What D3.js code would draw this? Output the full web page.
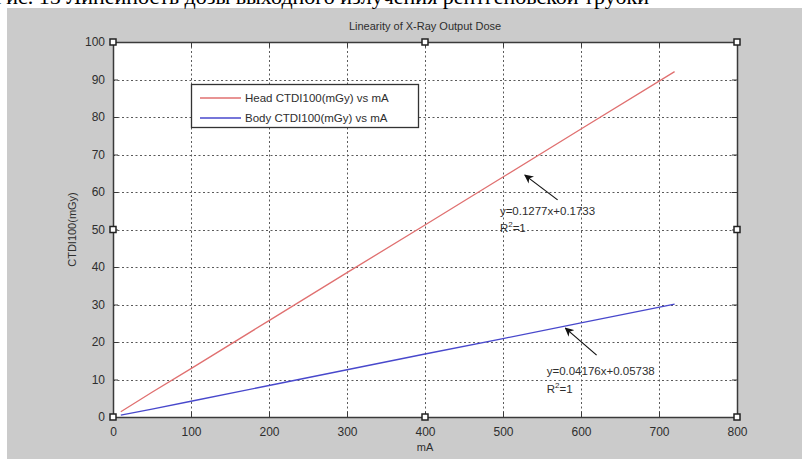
<!DOCTYPE html>
<html>
<head>
<meta charset="utf-8">
<script src="https://cdn.jsdelivr.net/npm/d3@7/dist/d3.min.js"></script>
<style>
  html, body { margin: 0; padding: 0; background: #ffffff; }
  svg { display: block; }
</style>
</head>
<body>
<script>
// Tube current settings (mA) and measured CTDI100 (mGy)
const mA = [10, 50, 100, 200, 300, 400, 500, 600, 720];
const headCTDI = [1.4, 6.6, 12.9, 25.7, 38.5, 51.2, 64.0, 76.8, 92.1];
const bodyCTDI = [0.5, 2.1, 4.2, 8.4, 12.6, 16.8, 20.9, 25.1, 30.1];

const xTicks = [0, 100, 200, 300, 400, 500, 600, 700, 800];
const yTicks = [0, 10, 20, 30, 40, 50, 60, 70, 80, 90, 100];

const seriesNames = ["Head CTDI100(mGy) vs mA", "Body CTDI100(mGy) vs mA"];
const fitLabels = ["y=0.1277x+0.1733", "y=0.04176x+0.05738"];

const W = 802, H = 459;
const plot = { left: 113, right: 737, top: 42, bottom: 417 };

const svg = d3.select("body").append("svg")
  .attr("width", W).attr("height", H)
  .style("font-family", "'Liberation Sans', Arial, sans-serif");

// figure window background
svg.append("rect").attr("x", 7).attr("y", 8).attr("width", W - 7).attr("height", H - 8)
  .attr("fill", "#cbcbcb");

// caption line of the surrounding page, cut off at the top edge
svg.append("text")
  .attr("x", -6).attr("y", 4)
  .attr("font-family", "'Liberation Serif', 'Times New Roman', serif")
  .attr("font-size", 22)
  .attr("fill", "#000")
  .text("Рис. 15 Линейность дозы выходного излучения рентгеновской трубки");

const x = d3.scaleLinear().domain([0, 800]).range([plot.left, plot.right]);
const y = d3.scaleLinear().domain([0, 100]).range([plot.bottom, plot.top]);

// axes area
svg.append("rect")
  .attr("x", plot.left).attr("y", plot.top)
  .attr("width", plot.right - plot.left).attr("height", plot.bottom - plot.top)
  .attr("fill", "#ffffff");

const grid = svg.append("g")
  .attr("stroke", "#5a5a5a").attr("stroke-width", 1)
  .attr("stroke-dasharray", "2,2.5");
grid.selectAll("line.v").data(xTicks.slice(1, -1)).join("line")
  .attr("x1", d => Math.round(x(d)) + 0.5).attr("x2", d => Math.round(x(d)) + 0.5)
  .attr("y1", plot.top).attr("y2", plot.bottom);
grid.selectAll("line.h").data(yTicks.slice(1, -1)).join("line")
  .attr("y1", d => Math.round(y(d)) + 0.5).attr("y2", d => Math.round(y(d)) + 0.5)
  .attr("x1", plot.left).attr("x2", plot.right);

// axes with inward ticks
const axisColor = "#3a3a3a";
const xAxis = svg.append("g").attr("transform", `translate(0,${plot.bottom})`)
  .call(d3.axisBottom(x).tickValues(xTicks).tickSize(-5).tickPadding(10).tickFormat(d3.format("d")));
const yAxis = svg.append("g").attr("transform", `translate(${plot.left},0)`)
  .call(d3.axisLeft(y).tickValues(yTicks).tickSize(-5).tickPadding(8).tickFormat(d3.format("d")));
const xTop = svg.append("g").attr("transform", `translate(0,${plot.top})`)
  .call(d3.axisTop(x).tickValues(xTicks).tickSize(-5).tickFormat(""));
const yRight = svg.append("g").attr("transform", `translate(${plot.right},0)`)
  .call(d3.axisRight(y).tickValues(yTicks).tickSize(-5).tickFormat(""));
[xAxis, yAxis, xTop, yRight].forEach(g => {
  g.select(".domain").remove();
  g.selectAll(".tick line").attr("stroke", axisColor);
  g.selectAll(".tick text")
    .attr("fill", "#2e2e2e")
    .attr("font-size", 12)
    .attr("font-family", "'Liberation Sans', Arial, sans-serif");
});

svg.append("rect")
  .attr("x", plot.left + 0.5).attr("y", plot.top + 0.5)
  .attr("width", plot.right - plot.left).attr("height", plot.bottom - plot.top)
  .attr("fill", "none").attr("stroke", axisColor).attr("stroke-width", 1.5);

// series
const line = d3.line().x((d, i) => x(mA[i])).y(d => y(d));
const colors = ["#e07070", "#4848cc"];
[headCTDI, bodyCTDI].forEach((vals, k) => {
  svg.append("path").datum(vals)
    .attr("d", line)
    .attr("fill", "none")
    .attr("stroke", colors[k])
    .attr("stroke-width", 1.3);
});

// title and axis labels
svg.append("text").attr("x", 425).attr("y", 30).attr("text-anchor", "middle")
  .attr("font-size", 11).attr("fill", "#2e2e2e").text("Linearity of X-Ray Output Dose");
svg.append("text").attr("x", 425).attr("y", 451).attr("text-anchor", "middle")
  .attr("font-size", 11).attr("fill", "#2e2e2e").text("mA");
svg.append("text")
  .attr("transform", `translate(76,${(plot.top + plot.bottom) / 2}) rotate(-90)`)
  .attr("text-anchor", "middle").attr("font-size", 11).attr("fill", "#2e2e2e")
  .text("CTDI100(mGy)");

// legend
const lg = svg.append("g");
lg.append("rect").attr("x", 191.5).attr("y", 84.5).attr("width", 227).attr("height", 43)
  .attr("fill", "#ffffff").attr("stroke", "#333").attr("stroke-width", 1.3);
seriesNames.forEach((name, k) => {
  const cy = 98 + k * 20;
  lg.append("line").attr("x1", 200).attr("x2", 241).attr("y1", cy).attr("y2", cy)
    .attr("stroke", colors[k]).attr("stroke-width", 1.3);
  lg.append("text").attr("x", 245).attr("y", cy + 4).attr("font-size", 11.5)
    .attr("fill", "#2e2e2e").text(name);
});

// fit annotations with arrows
svg.append("defs").append("marker")
  .attr("id", "arrowhead").attr("viewBox", "0 0 10 10")
  .attr("refX", 9).attr("refY", 5).attr("markerWidth", 9).attr("markerHeight", 9)
  .attr("markerUnits", "userSpaceOnUse").attr("orient", "auto")
  .append("path").attr("d", "M0,0 L10,5 L0,10 L3,5 Z").attr("fill", "#111");

const notes = [
  { tail: [570, 57.9], tip: [528, 64.5], text: [496, 53.9], r2: 49.3 },
  { tail: [620, 16.5], tip: [580, 23.7], text: [556, 11.2], r2: 6.4 }
];
notes.forEach((n, k) => {
  svg.append("line")
    .attr("x1", x(n.tail[0])).attr("y1", y(n.tail[1]))
    .attr("x2", x(n.tip[0])).attr("y2", y(n.tip[1]))
    .attr("stroke", "#111").attr("stroke-width", 1.2)
    .attr("marker-end", "url(#arrowhead)");
  svg.append("text").attr("x", x(n.text[0])).attr("y", y(n.text[1]))
    .attr("font-size", 11.5).attr("fill", "#2e2e2e").text(fitLabels[k]);
  const r = svg.append("text").attr("x", x(n.text[0])).attr("y", y(n.r2))
    .attr("font-size", 11.5).attr("fill", "#2e2e2e");
  r.append("tspan").text("R");
  r.append("tspan").attr("dy", -5).attr("font-size", 8).text("2");
  r.append("tspan").attr("dy", 5).text("=1");
});

// edit handles on the axes box
const handles = [];
[0, 400, 800].forEach(hx => [0, 50, 100].forEach(hy => {
  if (hx === 400 && hy === 50) return;
  handles.push([hx, hy]);
}));
svg.selectAll("rect.handle").data(handles).join("rect")
  .attr("class", "handle")
  .attr("x", d => x(d[0]) - 3).attr("y", d => y(d[1]) - 3)
  .attr("width", 6).attr("height", 6)
  .attr("fill", "#ffffff").attr("stroke", "#222").attr("stroke-width", 1.5);
</script>
</body>
</html>
